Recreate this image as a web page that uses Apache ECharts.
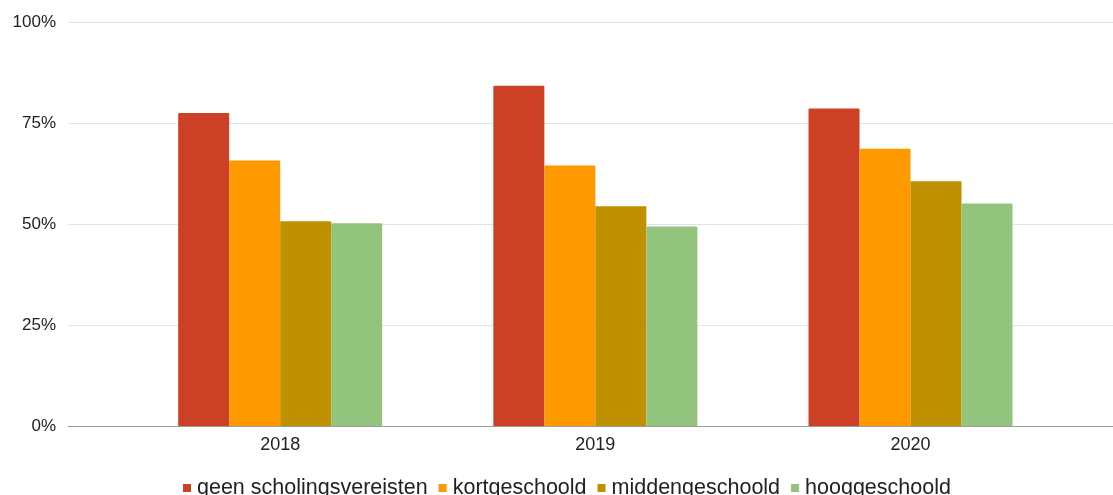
<!DOCTYPE html>
<html>
<head>
<meta charset="utf-8">
<script src="https://cdn.jsdelivr.net/npm/echarts@6/dist/echarts.min.js"></script>
<style>html,body{margin:0;padding:0;background:#fff;}#c{width:1113px;height:495px;}</style>
</head>
<body>
<div id="c"></div>
<script>
const years = ['2018', '2019', '2020'];
const seriesNames = ['geen scholingsvereisten', 'kortgeschoold', 'middengeschoold', 'hooggeschoold'];
const geenScholing = [77.5, 84.2, 78.6];
const kortgeschoold = [65.7, 64.5, 68.6];
const middengeschoold = [50.7, 54.4, 60.6];
const hooggeschoold = [50.2, 49.4, 55.1];
const yTicks = [0, 25, 50, 75, 100];
const colors = ['#cc4125', '#ff9900', '#bf9000', '#93c47d'];

const values = [geenScholing, kortgeschoold, middengeschoold, hooggeschoold];
const font = 'Liberation Sans, Arial, sans-serif';

const chart = echarts.init(document.getElementById('c'), null, {renderer: 'canvas'});
chart.setOption({
  animation: false,
  backgroundColor: '#ffffff',
  color: colors,
  legend: {
    left: 183,
    top: 477,
    padding: 0,
    itemWidth: 8,
    itemHeight: 8,
    itemGap: 11,
    icon: 'rect',
    textStyle: {fontFamily: font, fontSize: 21.5, color: '#222222', padding: [0, 0, 0, 1]},
    data: seriesNames
  },
  grid: [
    {left: 68, right: 0, top: 22, bottom: 69, containLabel: false},
    {left: 122.6, right: 44.9, top: 22, bottom: 69, containLabel: false}
  ],
  xAxis: [
    {
      type: 'category', gridIndex: 0, data: [''],
      axisLine: {show: true, lineStyle: {color: '#9e9e9e', width: 1}},
      axisTick: {show: false}, axisLabel: {show: false}, splitLine: {show: false}
    },
    {
      type: 'category', gridIndex: 1, data: years,
      axisLine: {show: false}, axisTick: {show: false},
      axisLabel: {margin: 10, fontFamily: font, fontSize: 18, color: '#222222'},
      splitLine: {show: false}
    }
  ],
  yAxis: [
    {
      type: 'value', gridIndex: 0, min: yTicks[0], max: yTicks[yTicks.length - 1], interval: 25,
      axisLine: {show: false}, axisTick: {show: false},
      axisLabel: {margin: 12, fontFamily: font, fontSize: 17, color: '#222222', formatter: '{value}%'},
      splitLine: {show: true, lineStyle: {color: '#e3e3e3', width: 1}}
    },
    {
      type: 'value', gridIndex: 1, min: 0, max: 100, interval: 25,
      show: false, splitLine: {show: false}
    }
  ],
  series: seriesNames.map((name, i) => ({
    name: name,
    type: 'bar',
    xAxisIndex: 1,
    yAxisIndex: 1,
    data: values[i],
    barWidth: 51,
    barGap: '0%',
    itemStyle: {color: colors[i], borderRadius: [1, 1, 0, 0]}
  }))
});
</script>
</body>
</html>
